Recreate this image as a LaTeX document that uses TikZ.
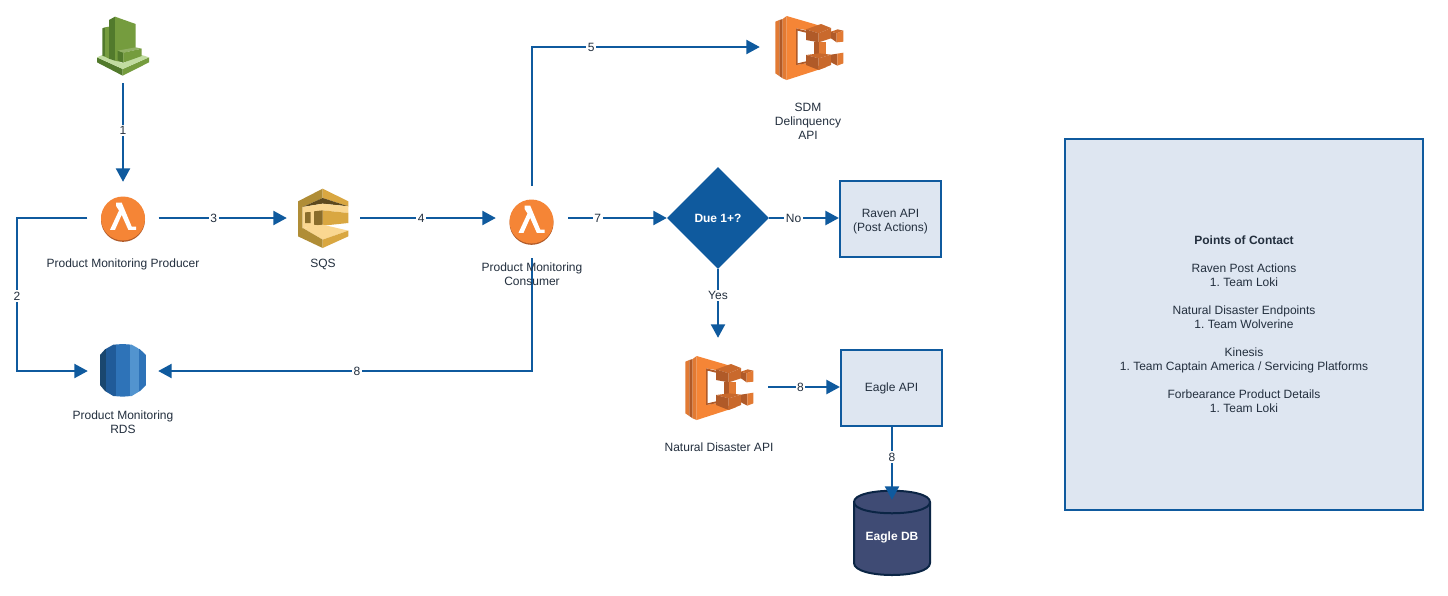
\documentclass[tikz,border=0pt]{standalone}
\usepackage{fontspec}
\setmainfont{Liberation Sans}
\usetikzlibrary{arrows.meta,shapes.geometric,calc}
\definecolor{flow}{HTML}{0F5A9E}
\definecolor{boxfill}{HTML}{DEE6F1}
\definecolor{ink}{HTML}{232F3E}
\definecolor{dbfill}{HTML}{3F4B74}
\definecolor{dbline}{HTML}{0B2545}
\definecolor{orA}{HTML}{F58536}
\definecolor{orB}{HTML}{9D5025}
\definecolor{orC}{HTML}{B05A28}
\definecolor{orD}{HTML}{C9692C}
\definecolor{orE}{HTML}{E27A33}
\definecolor{grA}{HTML}{759C3E}
\definecolor{grB}{HTML}{527A2C}
\definecolor{grC}{HTML}{C1DCA0}
\definecolor{gdA}{HTML}{D9A741}
\definecolor{gdB}{HTML}{8A6D2B}
\definecolor{gdC}{HTML}{FAD791}
\definecolor{gdD}{HTML}{B08D36}
\definecolor{gdE}{HTML}{5E4A1E}
\definecolor{bluA}{HTML}{2E73B8}
\definecolor{bluB}{HTML}{205B99}
\definecolor{bluC}{HTML}{1A476F}
\definecolor{bluD}{HTML}{5294CF}
\tikzset{
  zoomed/.style 2 args={shift={(#1,#2)},x=0.33333pt,y=-0.33333pt},
  iconbox/.style={rectangle,inner sep=0pt,minimum width=#1},
  txt/.style={font=\fontsize{12}{14}\selectfont,text=ink,align=center,inner sep=0pt},
  flowline/.style={draw=flow,line width=2.3pt},
  arrowed/.style={flowline,-{Triangle[length=13.5pt,width=14pt,fill=flow]}},
  lbl/.style={font=\fontsize{12}{14}\selectfont,text=ink,fill=white,inner sep=1.5pt,align=center},
  infobox/.style={draw=flow,fill=boxfill,line width=2.2pt,rectangle,inner sep=0pt,align=center,text=ink,font=\fontsize{12}{14}\selectfont},
}
% icons: drawn in the reference's 3x crop coordinates
\newcommand{\lambdaicon}[2]{%
  \begin{scope}[zoomed={#1}{#2}]
    \fill[orC] (0,4) circle (66);
    \fill[orA] (0,0) circle (66);
    \fill[white] (-21,-48) -- (-4,-48) -- (26,24) -- (39,24) -- (39,34) -- (16,34) -- (-4,-11) -- (-24,34) -- (-39,34) -- (-12,-24) -- (-21,-38) -- cycle;
  \end{scope}}
\newcommand{\ecsicon}[2]{%
  \begin{scope}[zoomed={#1}{#2}]
    \fill[orE] (28,35) -- (40,30) -- (40,198) -- (28,190) -- cycle;
    \fill[orC] (40,30) -- (50,27) -- (50,205) -- (40,198) -- cycle;
    \fill[orE] (50,27) -- (62,18) -- (62,210) -- (50,205) -- cycle;
    \fill[orA] (62,18) -- (165,48) -- (120,60) -- (90,55) -- (90,165) -- (120,160) -- (180,172) -- (62,210) -- cycle;
    \fill[orC] (90,55) -- (120,62) -- (120,68) -- (95,62) -- (95,160) -- (120,154) -- (120,160) -- (90,165) -- cycle;
    % connector
    \fill[orC] (143,95) rectangle (158,132);
    \fill[orE] (158,95) rectangle (180,132);
    % upper big box
    \fill[orD] (120,58) -- (165,42) -- (195,54) -- (158,70) -- cycle;
    \fill[orC] (120,58) -- (158,70) -- (158,97) -- (120,90) -- cycle;
    \fill[orD] (158,70) -- (195,54) -- (195,85) -- (158,97) -- cycle;
    % upper small box
    \fill[orC] (195,65) -- (212,70) -- (212,97) -- (195,85) -- cycle;
    \fill[orD] (195,65) -- (215,58) -- (232,62) -- (212,70) -- cycle;
    \fill[orE] (212,70) -- (232,62) -- (232,95) -- (212,97) -- cycle;
    % lower big box
    \fill[orD] (120,135) -- (160,130) -- (195,134) -- (158,145) -- cycle;
    \fill[orC] (120,135) -- (158,145) -- (158,180) -- (120,165) -- cycle;
    \fill[orD] (158,145) -- (195,134) -- (195,165) -- (158,180) -- cycle;
    % lower small box
    \fill[orC] (195,134) -- (214,131) -- (214,167) -- (195,157) -- cycle;
    \fill[orE] (214,131) -- (232,128) -- (232,160) -- (214,167) -- cycle;
  \end{scope}}
\begin{document}
\frenchspacing
\begin{tikzpicture}[x=1pt,y=-1pt]
\useasboundingbox (0,0) rectangle (1448,595);
\fill[white] (0,0) rectangle (1448,595);

% CloudWatch icon
\begin{scope}[zoomed={70}{0}]
  \fill[grB] (81,172) -- (158,207) -- (158,227) -- (81,187) -- cycle;
  \fill[grA] (158,207) -- (237,172) -- (237,187) -- (158,227) -- cycle;
  \fill[grC] (81,172) -- (97,165) -- (158,190) -- (215,165) -- (237,172) -- (158,207) -- cycle;
  \fill[grB] (97,85) -- (105,82) -- (105,170) -- (97,167) -- cycle;
  \fill[grA] (105,82) -- (117,80) -- (117,176) -- (105,170) -- cycle;
  \fill[grB] (117,60) -- (135,50) -- (135,182) -- (117,176) -- cycle;
  \fill[grA] (135,50) -- (197,72) -- (197,145) -- (160,158) -- (160,188) -- (135,182) -- cycle;
  \fill[grB] (143,152) -- (160,158) -- (160,188) -- (143,181) -- cycle;
  \fill[grA!80!white] (143,152) -- (197,142) -- (215,146) -- (160,158) -- cycle;
  \fill[grA] (160,158) -- (215,146) -- (215,168) -- (160,188) -- cycle;
\end{scope}

% SQS icon
\begin{scope}[zoomed={290}{183}]
  \fill[gdD] (24,55) -- (38,62) -- (38,145) -- (24,160) -- cycle;
  \fill[gdD] (24,55) -- (98,17) -- (98,45) -- (38,72) -- cycle;
  \fill[gdA] (98,17) -- (175,55) -- (175,70) -- (98,45) -- cycle;
  \fill[gdE] (38,72) -- (98,45) -- (175,70) -- (98,62) -- cycle;
  \fill[gdC] (38,72) -- (98,62) -- (175,70) -- (175,90) -- (98,82) -- (98,128) -- (38,135) -- cycle;
  \fill[gdA] (98,82) -- (175,90) -- (175,120) -- (98,128) -- cycle;
  \fill[gdB] (45,88) -- (62,87) -- (62,120) -- (45,120) -- cycle;
  \fill[gdB] (72,85) -- (98,82) -- (98,128) -- (72,125) -- cycle;
  \fill[gdC] (38,135) -- (98,125) -- (175,143) -- (98,170) -- cycle;
  \fill[gdD] (24,160) -- (38,135) -- (98,170) -- (98,195) -- cycle;
  \fill[gdA] (98,195) -- (175,160) -- (175,143) -- (98,170) -- cycle;
\end{scope}

% RDS icon
\begin{scope}[zoomed={80}{330}]
  \begin{scope}
    \clip (60,75) -- (75,58) -- (100,44) -- (128,42) -- (155,44) -- (180,58) -- (198,75) -- (198,165) -- (180,183) -- (155,198) -- (128,200) -- (100,198) -- (75,183) -- (60,165) -- cycle;
    \fill[bluC] (60,40) rectangle (78,202);
    \fill[bluB] (78,40) rectangle (107,202);
    \fill[bluA] (107,40) rectangle (150,202);
    \fill[bluD] (150,40) rectangle (178,202);
    \fill[bluA] (178,40) rectangle (198,202);
  \end{scope}
\end{scope}

\lambdaicon{123}{218.5}
\lambdaicon{531.5}{221.5}
\ecsicon{766}{10}
\ecsicon{676}{350}

% Database body
\path[fill=dbfill,draw=dbline,line width=2pt]
  (854,502) .. controls (854,487) and (930,487) .. (930,502)
  -- (930,563) .. controls (930,579) and (854,579) .. (854,563) -- cycle;
\draw[dbline,line width=2pt] (854,502) .. controls (854,517) and (930,517) .. (930,502);

% Invisible icon frames, used as connector ends
\node[iconbox=52pt,minimum height=72pt] (watch) at (123,47) {};
\node[iconbox=71pt,minimum height=72pt] (producer) at (123,218) {};
\node[iconbox=73pt,minimum height=60pt] (sqs) at (323.5,218) {};
\node[iconbox=72pt,minimum height=64pt] (consumer) at (532,218) {};
\node[iconbox=70pt,minimum height=60pt] (rds) at (123,371) {};
\node[iconbox=98pt,minimum height=70pt] (sdm) at (809,47) {};
\node[iconbox=100pt,minimum height=98pt] (natural) at (718,387) {};
\coordinate (consumerlow) at (532,258);

% Boxes and decision
\node[diamond,fill=flow,text=white,font=\bfseries\fontsize{12}{14}\selectfont,inner sep=0pt,minimum width=102pt,minimum height=102pt] (due) at (718,218) {Due 1+?};
\node[infobox,minimum width=101pt,minimum height=76pt] (raven) at (890.5,219) {\rule{0pt}{14pt}Raven API\\(Post Actions)};
\node[infobox,minimum width=101pt,minimum height=76pt] (eagle) at (891.5,388) {Eagle API};
\node[inner sep=0pt,minimum width=76pt,minimum height=74pt,text=white,font=\bfseries\fontsize{12}{14}\selectfont] (db) at (892,537) {Eagle DB};
\node[infobox,minimum width=358pt,minimum height=371pt] (contacts) at (1244,324.5) {\textbf{Points of Contact}\\[14pt]
Raven Post Actions\\1. Team Loki\\[14pt]
Natural Disaster Endpoints\\1. Team Wolverine\\[14pt]
Kinesis\\1. Team Captain America / Servicing Platforms\\[14pt]
Forbearance Product Details\\1. Team Loki};

% Connectors
\draw[arrowed] (watch.south) -- node[lbl,pos=0.48] {1} (producer.north);
\draw[arrowed] (producer.east) -- node[lbl,pos=0.43] {3} (sqs.west);
\draw[arrowed] (sqs.east) -- node[lbl,pos=0.45] {4} (consumer.west);
\draw[arrowed] (consumer.east) -- node[lbl,pos=0.3] {7} (due.west);
\draw[arrowed] (due.east) -- node[lbl,pos=0.35] {No} (due.east -| raven.west);
\draw[arrowed] (due.south) -- node[lbl,pos=0.38] {Yes} (natural.north);
\draw[arrowed] (natural.east) -- node[lbl,pos=0.45] {8} (natural.east -| eagle.west);
\draw[arrowed] (eagle.south -| db.north) -- node[lbl,pos=0.41] {8} (db.north);
\draw[arrowed] (producer.west) -- (17,218) -- node[lbl,pos=0.51] {2} (17,371) -- (rds.west);
\draw[arrowed] (consumerlow) -- (532,371) -- node[lbl,pos=0.468] {8} (rds.east);
\draw[arrowed] (consumer.north) -- (532,47) -- node[lbl,pos=0.26] {5} (sdm.west);

% Icon captions
\node[txt] (capproducer) at (123,264) {Product Monitoring Producer};
\node[txt] (capsqs) at (323,264) {SQS};
\node[txt] (capconsumer) at (532,274.5) {Product Monitoring\\Consumer};
\node[txt] (capsdm) at (808,121) {SDM\\Delinquency\\API};
\node[txt] (caprds) at (123,422.5) {Product Monitoring\\RDS};
\node[txt] (capnatural) at (719,447) {Natural Disaster API};
\end{tikzpicture}
\end{document}
